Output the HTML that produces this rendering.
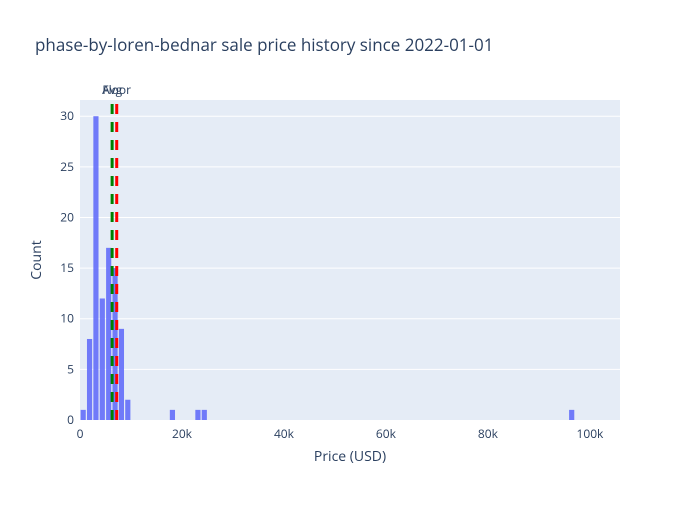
<!DOCTYPE html>
<html><head><meta charset="utf-8"><style>
body{margin:0;background:#fff;}
svg{font-family:"Open Sans","Liberation Sans",sans-serif;}
</style></head><body>
<svg id="chart" width="700" height="500" xmlns="http://www.w3.org/2000/svg">
<rect width="700" height="500" fill="#fff"/>
<text x="35" y="51" font-size="17" fill="#2a3f5f">phase-by-loren-bednar sale price history since 2022-01-01</text>
<rect x="80" y="100" width="540" height="320" fill="#e5ecf6"/>
<g id="grid"></g><g id="bars"></g><g id="lines"></g><g id="axes"></g>
<text x="350" y="461" font-size="14" fill="#2a3f5f" text-anchor="middle">Price (USD)</text>
<text transform="translate(41,260) rotate(-90)" font-size="14" fill="#2a3f5f" text-anchor="middle">Count</text>
</svg>
<script>
const binStarts=[0,1250,2500,3750,5000,6250,7500,8750,17500,22500,23750,95800];
const counts=[1,8,30,12,17,15,9,2,1,1,1,1];
const binWidth=1250;
const xTicks=[0,20000,40000,60000,80000,100000];
const xTickLabels=["0","20k","40k","60k","80k","100k"];
const yTicks=[0,5,10,15,20,25,30];
const avgPrice=6300;
const floorPrice=7200;
const NS="http://www.w3.org/2000/svg";
const X0=80,X1=620,Y0=420,Y1=100,xMax=105900,yMax=31.6;
const xs=v=>X0+v/xMax*(X1-X0);
const ys=v=>Y0-v/yMax*(Y0-Y1);
function mk(t,a,p){const e=document.createElementNS(NS,t);for(const k in a)e.setAttribute(k,a[k]);p.appendChild(e);return e;}
const grid=document.getElementById('grid'),bars=document.getElementById('bars'),lines=document.getElementById('lines'),axes=document.getElementById('axes');
yTicks.forEach(v=>{
  if(v>0){const g=mk('line',{x1:X0,x2:X1,y1:ys(v),y2:ys(v),stroke:'#fff','stroke-width':1},grid);
  
  }
  const t=mk('text',{x:X0-6,y:ys(v)+4,'font-size':12,fill:'#2a3f5f','text-anchor':'end'},axes);t.textContent=v;
  
  
});
xTicks.forEach((v,i)=>{
  const t=mk('text',{x:xs(v),y:Y0+18,'font-size':12,fill:'#2a3f5f','text-anchor':'middle'},axes);t.textContent=xTickLabels[i];
  
  
});
binStarts.forEach((b,i)=>{
  const x=xs(b)+0.6,w=xs(b+binWidth)-xs(b)-1.2;
  const r=mk('rect',{x:x,y:ys(counts[i]),width:w,height:Y0-ys(counts[i]),fill:'#636efa',opacity:0.9},bars);
  
  
});
[[avgPrice,'green','Avg','avg-line'],[floorPrice,'red','Floor','floor-line']].forEach(d=>{
  const l=mk('line',{x1:xs(d[0]),x2:xs(d[0]),y1:Y0,y2:Y1,stroke:d[1],'stroke-width':3,'stroke-dasharray':'10,8'},lines);
  
  
  const t=mk('text',{x:xs(d[0]),y:94,'font-size':12,fill:'#2a3f5f','text-anchor':'middle'},lines);t.textContent=d[2];
  
  
});
</script>
</body></html>
